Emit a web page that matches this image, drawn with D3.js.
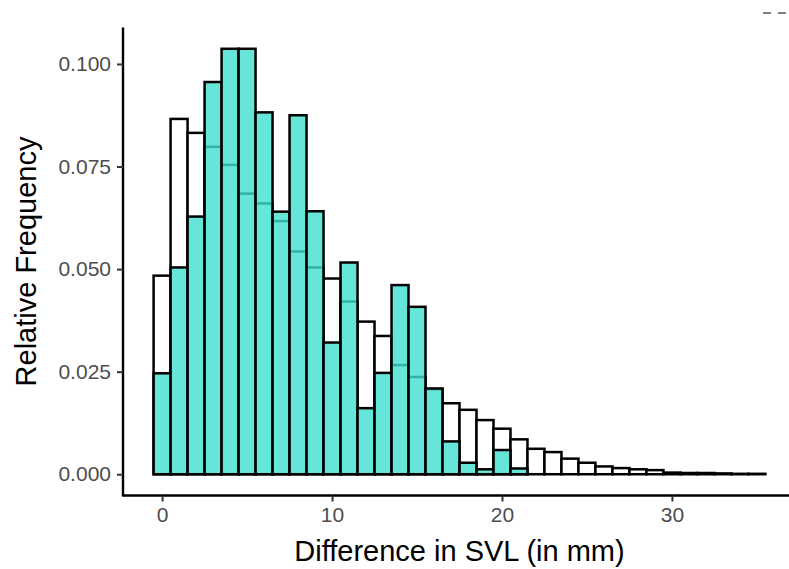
<!DOCTYPE html>
<html>
<head>
<meta charset="utf-8">
<script src="https://cdn.jsdelivr.net/npm/d3@7"></script>
<style>
  html, body { margin: 0; padding: 0; background: #ffffff; }
  svg { display: block; }
  text { font-family: "Liberation Sans", Arial, sans-serif; }
</style>
</head>
<body>
<svg id="chart" width="789" height="569"></svg>
<script>
// ---- data (bin centres, width 1 mm) ----
const binCenters = d3.range(0, 36);
const whiteFreq = [0.0484, 0.0866, 0.0832, 0.0798, 0.0754, 0.0684, 0.0660, 0.0617, 0.0543, 0.0504,
                   0.0477, 0.0421, 0.0372, 0.0337, 0.0266, 0.0237, 0.0207, 0.0173, 0.0157, 0.0132,
                   0.0111, 0.0085, 0.0062, 0.0054, 0.0038, 0.0028, 0.0019, 0.0015, 0.0012, 0.0010,
                   0.0004, 0.0003, 0.0003, 0.0002, 0.0001, 0.0001];
const tealFreq  = [0.0246, 0.0504, 0.0628, 0.0956, 0.1037, 0.1037, 0.0882, 0.0640, 0.0875, 0.0641,
                   0.0321, 0.0516, 0.0161, 0.0247, 0.0461, 0.0408, 0.0209, 0.0080, 0.0028, 0.0012,
                   0.0059, 0.0014];
const xTicks = [0, 10, 20, 30];
const yTicks = [0, 0.025, 0.05, 0.075, 0.1];
const xTitle = "Difference in SVL (in mm)";
const yTitle = "Relative Frequency";

const svg = d3.select("#chart");
const binW = 1;

// scales (ggplot-like 5% expansion)
const xMin = -0.5, xMax = 35.5;
const xPad = (xMax - xMin) * 0.05;
const x = d3.scaleLinear().domain([xMin - xPad, xMax + xPad]).range([123, 796]);
const yMax = d3.max(tealFreq.concat(whiteFreq));
const yPad = yMax * 0.05;
const y = d3.scaleLinear().domain([-yPad, yMax + yPad]).range([495.5, 27.5]);

const whiteData = binCenters.map((c, i) => ({c, v: whiteFreq[i]}));
const tealData = tealFreq.map((v, i) => ({c: binCenters[i], v}));

// white histogram
svg.append("g").selectAll("rect").data(whiteData).join("rect")
  .attr("x", d => x(d.c - binW / 2))
  .attr("width", d => x(d.c + binW / 2) - x(d.c - binW / 2))
  .attr("y", d => y(d.v))
  .attr("height", d => y(0) - y(d.v))
  .attr("fill", "#ffffff")
  .attr("stroke", "#000000")
  .attr("stroke-width", 2.5);

// teal histogram (semi-transparent fill on top)
svg.append("g").selectAll("rect").data(tealData).join("rect")
  .attr("x", d => x(d.c - binW / 2))
  .attr("width", d => x(d.c + binW / 2) - x(d.c - binW / 2))
  .attr("y", d => y(d.v))
  .attr("height", d => y(0) - y(d.v))
  .attr("fill", "rgba(64,224,208,0.8)")
  .attr("stroke", "#000000")
  .attr("stroke-width", 2.5);

// axes
const xAxis = svg.append("g").attr("transform", `translate(0,${y.range()[0]})`)
  .call(d3.axisBottom(x).tickValues(xTicks).tickFormat(d3.format("d")).tickSizeOuter(0).tickSize(6).tickPadding(6));
const yAxis = svg.append("g").attr("transform", `translate(${x.range()[0]},0)`)
  .call(d3.axisLeft(y).tickValues(yTicks).tickFormat(d3.format(".3f")).tickSizeOuter(0).tickSize(6).tickPadding(6));

[xAxis, yAxis].forEach(g => {
  g.select(".domain").attr("stroke", "#000").attr("stroke-width", 2.4);
  g.selectAll(".tick line").attr("stroke", "#333").attr("stroke-width", 2);
  g.selectAll(".tick text").attr("fill", "#4D4D4D").style("font-size", "21px")
    .style("font-family", "'Liberation Sans', Arial, sans-serif");
});
// extend x axis line past the panel like the cropped original
xAxis.select(".domain").attr("d", `M${x.range()[0]},0H789`);
yAxis.select(".domain").attr("d", `M0,${y.range()[0] + 1}V${y.range()[1]}`);

// titles
svg.append("text")
  .attr("x", (x.range()[0] + x.range()[1]) / 2)
  .attr("y", 561)
  .attr("text-anchor", "middle")
  .style("font-size", "29px")
  .attr("fill", "#000")
  .text(xTitle);

svg.append("text")
  .attr("transform", `translate(36,${(y.range()[0] + y.range()[1]) / 2}) rotate(-90)`)
  .attr("text-anchor", "middle")
  .style("font-size", "29px")
  .attr("fill", "#000")
  .text(yTitle);

// cropped page-number fragment at the top right
svg.append("g").selectAll("line").data([[763, 771], [778, 786]]).join("line")
  .attr("x1", d => d[0]).attr("x2", d => d[1]).attr("y1", 13).attr("y2", 13)
  .attr("stroke", "#555").attr("stroke-width", 1.5);
</script>
</body>
</html>
